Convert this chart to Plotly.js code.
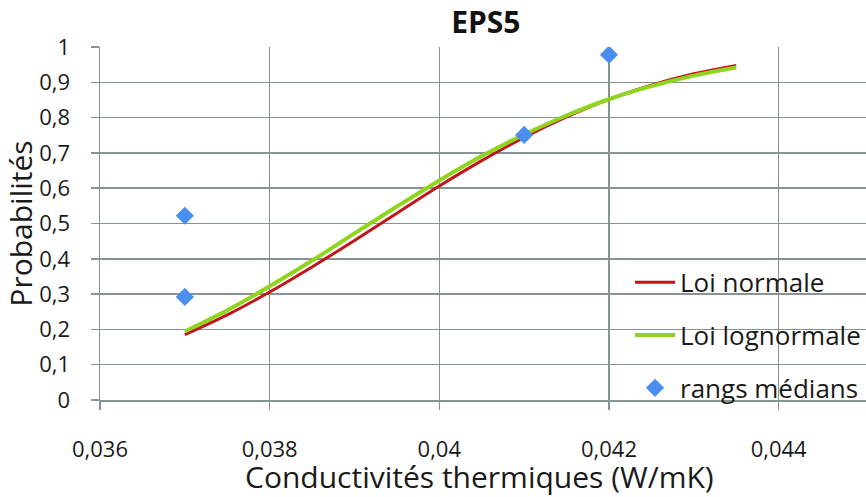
<!DOCTYPE html>
<html>
<head>
<meta charset="utf-8">
<script src="https://cdn.plot.ly/plotly-3.0.1.min.js"></script>
<style>html,body{margin:0;padding:0;background:#fff;}#chart{width:866px;height:497px;}</style>
</head>
<body>
<div id="chart"></div>
<script>
// Data
const curveX = [0.037, 0.0375, 0.038, 0.0385, 0.039, 0.0395, 0.040, 0.0405, 0.041, 0.0415, 0.042, 0.0425, 0.043, 0.0435];
const loiNormale = [0.185, 0.241, 0.306, 0.377, 0.452, 0.529, 0.606, 0.678, 0.744, 0.802, 0.852, 0.892, 0.924, 0.948];
const loiLognormale = [0.194, 0.254, 0.322, 0.395, 0.472, 0.548, 0.622, 0.691, 0.752, 0.806, 0.852, 0.889, 0.919, 0.942];
const rangsX = [0.037, 0.037, 0.041, 0.042];
const rangsY = [0.522, 0.292, 0.751, 0.978];

const xTickVals = [0.036, 0.038, 0.040, 0.042, 0.044];
const xTickText = ["0,036", "0,038", "0,04", "0,042", "0,044"];
const yTickVals = [0, 0.1, 0.2, 0.3, 0.4, 0.5, 0.6, 0.7, 0.8, 0.9, 1];
const yTickText = ["0", "0,1", "0,2", "0,3", "0,4", "0,5", "0,6", "0,7", "0,8", "0,9", "1"];

const FONT = "'Open Sans', Lato, sans-serif";
const gridCol = "#879494";

const traces = [
  {x: curveX, y: loiNormale, mode: "lines", name: "Loi normale", legendgroup: "a",
   line: {color: "#c0161c", width: 3, shape: "spline"}},
  {x: curveX, y: loiLognormale, mode: "lines", name: "Loi lognormale", legendgroup: "b",
   line: {color: "#8fd41e", width: 4, shape: "spline"}},
  {x: rangsX, y: rangsY, mode: "markers", name: "rangs médians", legendgroup: "c",
   marker: {symbol: "diamond", size: 14, color: "#4a8ef0"}}
];

const layout = {
  width: 866, height: 497,
  margin: {l: 100, r: 0, t: 47, b: 97},
  paper_bgcolor: "#ffffff", plot_bgcolor: "#ffffff",
  font: {family: FONT, color: "#1a1a1a", size: 22},
  title: {text: "EPS5", font: {family: FONT, size: 30, weight: "bold", color: "#111"},
          x: 0.561, xanchor: "center", y: 0.955, yanchor: "middle"},
  xaxis: {
    range: [0.036, 0.04503], tickvals: xTickVals, ticktext: xTickText,
    showgrid: true, gridcolor: gridCol, gridwidth: 1.5,
    showline: true, linecolor: gridCol, linewidth: 1.5,
    ticks: "outside", ticklen: 8, tickcolor: gridCol, tickwidth: 1.5,
    zeroline: false, tickfont: {size: 22}, ticklabelstandoff: 21
  },
  yaxis: {
    range: [0, 1.0], tickvals: yTickVals, ticktext: yTickText,
    showgrid: true, gridcolor: gridCol, gridwidth: 1.5,
    showline: true, linecolor: gridCol, linewidth: 1.5,
    ticks: "outside", ticklen: 8, tickcolor: gridCol, tickwidth: 1.5,
    zeroline: false, tickfont: {size: 22}, ticklabelstandoff: 16,
    title: {text: "Probabilités", font: {size: 30}, standoff: 6}
  },
  annotations: [{
    text: "Conductivités thermiques (W/mK)", xref: "paper", yref: "paper",
    x: 0.4954, y: -0.218, xanchor: "center", yanchor: "middle",
    showarrow: false, font: {size: 30, family: FONT, color: "#1a1a1a"}
  }],
  legend: {
    x: 1, xanchor: "right", y: 0.40, yanchor: "top",
    bgcolor: "rgba(0,0,0,0)", font: {size: 26},
    tracegroupgap: 16, traceorder: "grouped", itemwidth: 40
  },
  showlegend: true
};

Plotly.newPlot("chart", traces, layout, {displayModeBar: false, staticPlot: true});
</script>
</body>
</html>
